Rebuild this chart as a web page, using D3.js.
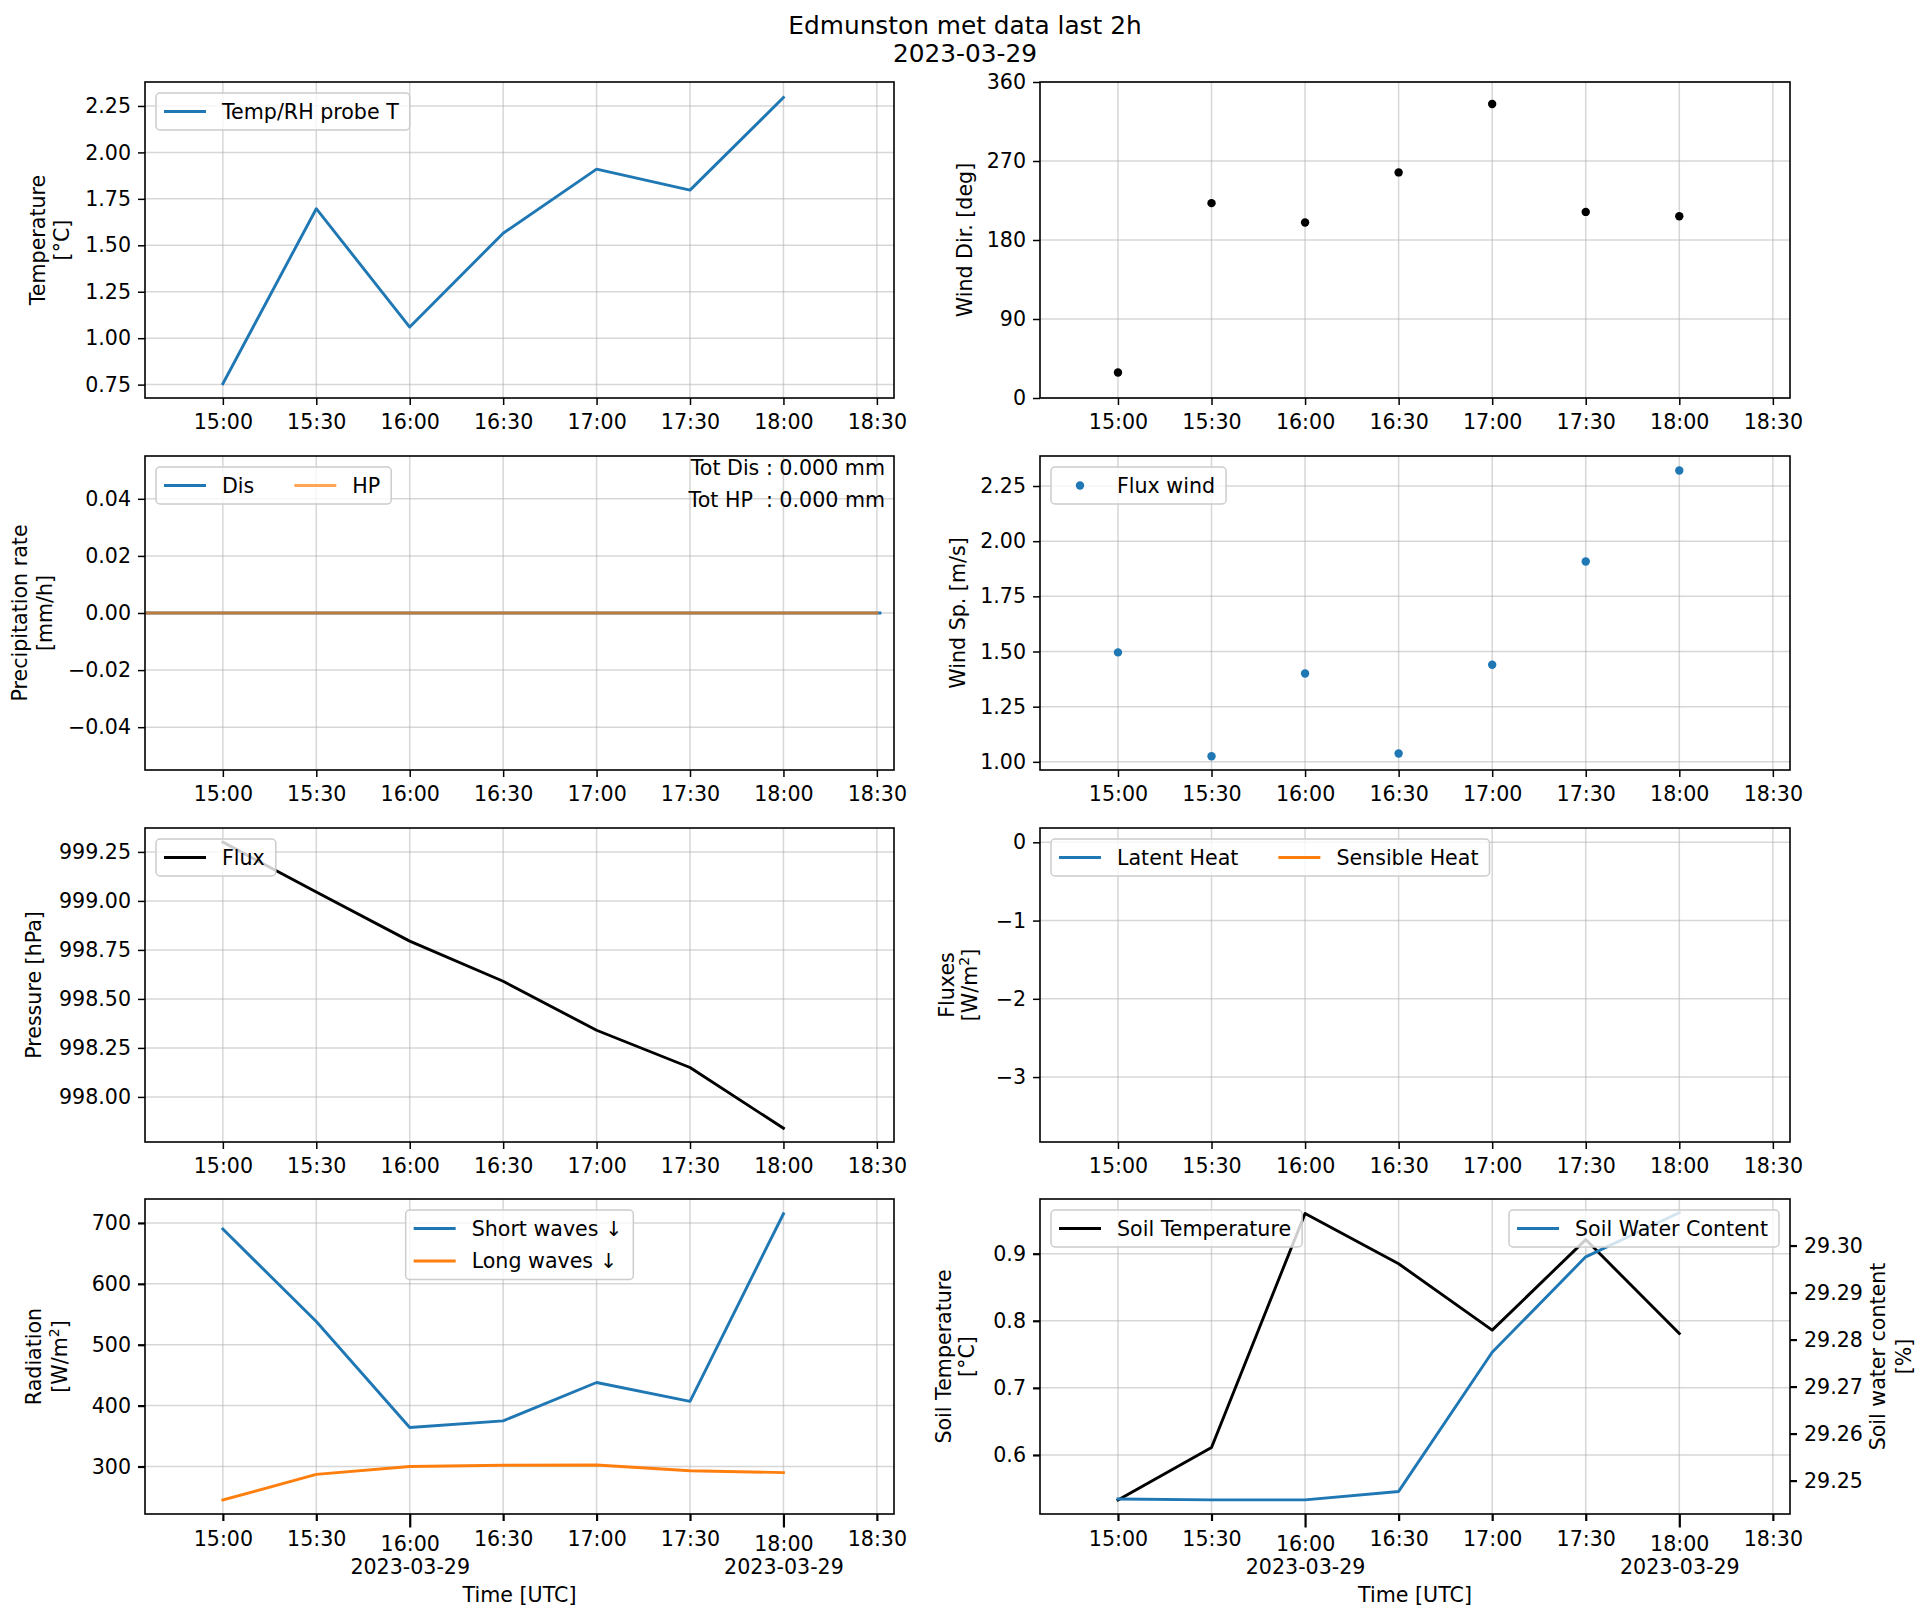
<!DOCTYPE html>
<html>
<head>
<meta charset="utf-8">
<script src="https://cdn.jsdelivr.net/npm/d3@7"></script>
<style>
  body { margin: 0; background: #fff; }
  text { font-family: "DejaVu Sans", sans-serif; fill: #000; }
</style>
</head>
<body>
<svg id="fig" width="1930" height="1621"></svg>
<script>
// ---- data ----
var day = "2023-03-29";
var timeDomain = ["14:35:00", "18:35:30"];
var times = ["15:00", "15:30", "16:00", "16:30", "17:00", "17:30", "18:00"];

var airTemp   = [0.755, 1.697, 1.06, 1.565, 1.91, 1.797, 2.295];
var windDir   = [29, 222, 200, 257, 335, 212, 207];
var windSpeed = [1.496, 1.025, 1.40, 1.038, 1.44, 1.908, 2.32];
var pressure  = [999.30, 999.045, 998.795, 998.59, 998.34, 998.15, 997.84];
var shortWave = [690, 538, 364, 375, 438, 407, 715];
var longWave  = [245, 287, 300, 302, 302.5, 293, 290];
var soilTemp  = [0.533, 0.611, 0.96, 0.885, 0.786, 0.921, 0.781];
var soilWater = [29.2461, 29.2459, 29.2459, 29.2477, 29.2773, 29.2976, 29.307];

var disTimes = ["14:35", "18:31"];
var disRate  = [0, 0];
var hpTimes  = ["14:35", "18:30"];
var hpRate   = [0, 0];
var totDis = 0.000, totHP = 0.000;

// flux panel has no data
var latentHeat = [];
var sensibleHeat = [];

// axis limits and ticks
var tempLim = [0.678, 2.379],      tempTicks = [0.75, 1.00, 1.25, 1.50, 1.75, 2.00, 2.25];
var dirLim = [0, 360],             dirTicks = [0, 90, 180, 270, 360];
var precipLim = [-0.055, 0.055],   precipTicks = [-0.04, -0.02, 0, 0.02, 0.04];
var speedLim = [0.963, 2.386],     speedTicks = [1.00, 1.25, 1.50, 1.75, 2.00, 2.25];
var presLim = [997.77, 999.372],   presTicks = [998.00, 998.25, 998.50, 998.75, 999.00, 999.25];
var fluxLim = [-3.83, 0.183],      fluxTicks = [-3, -2, -1, 0];
var radLim = [222, 739.3],         radTicks = [300, 400, 500, 600, 700];
var soilTLim = [0.512, 0.9815],    soilTTicks = [0.6, 0.7, 0.8, 0.9];
var soilWLim = [29.2429, 29.3099], soilWTicks = [29.25, 29.26, 29.27, 29.28, 29.29, 29.30];
var majorTimes = ["16:00", "18:00"];

// ---- layout ----
var svg = d3.select("#fig");
var FS = 20.6, LW = 2.9;
var blue = "#1f77b4", orange = "#ff7f0e";
var cols = [[145, 894], [1040, 1790]];
var rows = [[82, 398], [456, 770], [828, 1142], [1199, 1514]];

var parseT = d3.utcParse("%Y-%m-%d %H:%M:%S");
function toDate(s) { return parseT(day + " " + (s.length == 5 ? s + ":00" : s)); }
function series(ts, vs) { return ts.map((t, i) => ({t: toDate(t), v: vs[i]})); }
var xDomain = timeDomain.map(toDate);
var every30 = d3.utcMinute.every(30);
var majorSet = majorTimes.map(s => +toDate(s));

var defs = svg.append("defs");
var clipN = 0;

function panel(c, r, yLim, yTicks, yFmt, bottomRow) {
  var left = cols[c][0], right = cols[c][1], top = rows[r][0], bottom = rows[r][1];
  var x = d3.scaleUtc().domain(xDomain).range([left, right]);
  var y = d3.scaleLinear().domain(yLim).range([bottom, top]);
  var g = svg.append("g");
  var id = "clip" + (clipN++);
  defs.append("clipPath").attr("id", id).append("rect")
    .attr("x", left).attr("y", top).attr("width", right - left).attr("height", bottom - top);

  // grid
  var grid = g.append("g").attr("stroke", "#b0b0b0").attr("stroke-opacity", 0.5).attr("stroke-width", 1.5);
  x.ticks(every30).forEach(t => grid.append("line")
    .attr("x1", x(t)).attr("x2", x(t)).attr("y1", top).attr("y2", bottom));
  yTicks.forEach(v => grid.append("line")
    .attr("x1", left).attr("x2", right).attr("y1", y(v)).attr("y2", y(v)));

  var plot = g.append("g").attr("clip-path", "url(#" + id + ")");
  var over = svg.append("g");

  // spines
  over.append("rect").attr("x", left).attr("y", top)
    .attr("width", right - left).attr("height", bottom - top)
    .attr("fill", "none").attr("stroke", "#000").attr("stroke-width", 1.6);

  var tw = bottomRow ? 2.2 : 1.5;
  // x axis
  var xa = over.append("g").attr("transform", `translate(0,${bottom})`)
    .call(d3.axisBottom(x).ticks(every30).tickSize(7).tickPadding(10)
      .tickFormat(d3.utcFormat("%H:%M")));
  xa.select(".domain").remove();
  xa.selectAll("line").attr("stroke-width", tw);
  xa.attr("font-family", null).attr("font-size", FS);
  if (bottomRow) {
    xa.selectAll(".tick").each(function(d) {
      var t = d3.select(this);
      if (majorSet.indexOf(+d) >= 0) {
        t.select("line").attr("y2", 13.5);
        var txt = t.select("text").attr("y", 0).attr("dy", null).text(null);
        txt.append("tspan").attr("x", 0).attr("y", 37).text(d3.utcFormat("%H:%M")(d));
        txt.append("tspan").attr("x", 0).attr("y", 60).text(d3.utcFormat("%Y-%m-%d")(d));
      } else {
        t.select("text").attr("y", 32).attr("dy", null);
      }
    });
    over.append("text").attr("x", (left + right) / 2).attr("y", bottom + 87.5)
      .attr("text-anchor", "middle").attr("font-size", FS).text("Time [UTC]");
  } else {
    xa.selectAll("text").attr("y", 31).attr("dy", null);
  }

  // y axis
  var ya = over.append("g").attr("transform", `translate(${left},0)`)
    .call(d3.axisLeft(y).tickValues(yTicks).tickSize(7).tickPadding(7).tickFormat(d3.format(yFmt)));
  ya.select(".domain").remove();
  ya.selectAll("line").attr("stroke-width", tw);
  ya.attr("font-family", null).attr("font-size", FS);

  return {x: x, y: y, g: g, plot: plot, over: over, id: id,
          box: {left: left, right: right, top: top, bottom: bottom}};
}

function drawLine(p, target, yScale, data, color, alpha) {
  target.append("path").datum(data)
    .attr("fill", "none").attr("stroke", color).attr("stroke-width", LW)
    .attr("stroke-opacity", alpha || 1)
    .attr("stroke-linejoin", "round").attr("stroke-linecap", "square")
    .attr("d", d3.line().x(d => p.x(d.t)).y(d => yScale(d.v)));
}

function drawDots(p, data, color) {
  p.plot.selectAll(null).data(data).join("circle")
    .attr("cx", d => p.x(d.t)).attr("cy", d => p.y(d.v)).attr("r", 4.2).attr("fill", color);
}

function yLabel(lines, xs, box) {
  var cy = (box.top + box.bottom) / 2;
  lines.forEach((l, i) => {
    var t = svg.append("text").attr("transform", `translate(${xs[i]},${cy}) rotate(-90)`)
      .attr("text-anchor", "middle").attr("font-size", FS);
    if (l.indexOf("^2") >= 0) {
      var parts = l.split("^2");
      t.append("tspan").text(parts[0]);
      t.append("tspan").attr("font-size", 14).attr("dy", -8).text("2");
      t.append("tspan").attr("dy", 8).text(parts[1]);
    } else t.text(l);
  });
}

function legend(g, items, box, pos, ncol) {
  var rowH = 32.5, padL = 8, padR = 11, hLen = 42, hGap = 16, colGap = 40;
  var lg = g.append("g");
  var rect = lg.append("rect");
  var nrow = Math.ceil(items.length / ncol);
  var texts = items.map(it => lg.append("text").attr("font-size", FS).text(it.label));
  var widths = texts.map(t => t.node().getComputedTextLength());
  var colW = d3.range(ncol).map(ci => d3.max(widths.filter((w, i) => i % ncol == ci)));
  var wTot = padL + d3.sum(colW, w => hLen + hGap + w) + colGap * (ncol - 1) + padR;
  var hTot = 37 + (nrow - 1) * rowH;
  var bx = pos == "ul" ? box.left + 11
         : pos == "ur" ? box.right - 11 - wTot
         : (box.left + box.right) / 2 - wTot / 2;
  var by = box.top + 11;
  rect.attr("x", bx).attr("y", by).attr("width", wTot).attr("height", hTot)
    .attr("rx", 4).attr("fill", "#fff").attr("fill-opacity", 0.8)
    .attr("stroke", "#cccccc").attr("stroke-width", 1.5);
  items.forEach((it, i) => {
    var ci = i % ncol, ri = Math.floor(i / ncol);
    var cx = bx + padL + d3.sum(colW.slice(0, ci), w => hLen + hGap + w + colGap);
    var cy = by + 18.5 + ri * rowH;
    if (it.type == "dot") {
      lg.append("circle").attr("cx", cx + hLen / 2).attr("cy", cy).attr("r", 4.2).attr("fill", it.color);
    } else {
      lg.append("line").attr("x1", cx).attr("x2", cx + hLen).attr("y1", cy).attr("y2", cy)
        .attr("stroke", it.color).attr("stroke-width", LW).attr("stroke-opacity", it.alpha || 1);
    }
    texts[i].attr("x", cx + hLen + hGap).attr("y", cy).attr("dy", "0.36em");
  });
}

// ---- title ----
svg.append("text").attr("x", 965).attr("y", 34).attr("text-anchor", "middle")
  .attr("font-size", 24.8).text("Edmunston met data last 2h");
svg.append("text").attr("x", 965).attr("y", 62).attr("text-anchor", "middle")
  .attr("font-size", 24.8).text(day);

// ---- temperature ----
var p1 = panel(0, 0, tempLim, tempTicks, ".2f", false);
drawLine(p1, p1.plot, p1.y, series(times, airTemp), blue);
legend(p1.over, [{label: "Temp/RH probe T", color: blue}], p1.box, "ul", 1);
yLabel(["Temperature", "[°C]"], [44.5, 69], p1.box);

// ---- wind direction ----
var p2 = panel(1, 0, dirLim, dirTicks, "d", false);
drawDots(p2, series(times, windDir), "#000");
yLabel(["Wind Dir. [deg]"], [972], p2.box);

// ---- precipitation ----
var p3 = panel(0, 1, precipLim, precipTicks, ".2f", false);
drawLine(p3, p3.plot, p3.y, series(disTimes, disRate), blue);
drawLine(p3, p3.plot, p3.y, series(hpTimes, hpRate), orange, 0.7);
legend(p3.over, [{label: "Dis", color: blue}, {label: "HP", color: orange, alpha: 0.7}], p3.box, "ul", 2);
p3.over.append("text").attr("x", 885).attr("y", 474.6).attr("text-anchor", "end")
  .attr("font-size", FS).style("white-space", "pre").text("Tot Dis : " + d3.format(".3f")(totDis) + " mm");
p3.over.append("text").attr("x", 885).attr("y", 506.6).attr("text-anchor", "end")
  .attr("font-size", FS).style("white-space", "pre").text("Tot HP  : " + d3.format(".3f")(totHP) + " mm");
yLabel(["Precipitation rate", "[mm/h]"], [26.5, 52], p3.box);

// ---- wind speed ----
var p4 = panel(1, 1, speedLim, speedTicks, ".2f", false);
drawDots(p4, series(times, windSpeed), blue);
legend(p4.over, [{label: "Flux wind", color: blue, type: "dot"}], p4.box, "ul", 1);
yLabel(["Wind Sp. [m/s]"], [965], p4.box);

// ---- pressure ----
var p5 = panel(0, 2, presLim, presTicks, ".2f", false);
drawLine(p5, p5.plot, p5.y, series(times, pressure), "#000");
legend(p5.over, [{label: "Flux", color: "#000"}], p5.box, "ul", 1);
yLabel(["Pressure [hPa]"], [40.5], p5.box);

// ---- fluxes ----
var p6 = panel(1, 2, fluxLim, fluxTicks, "d", false);
drawLine(p6, p6.plot, p6.y, latentHeat, blue);
drawLine(p6, p6.plot, p6.y, sensibleHeat, orange);
legend(p6.over, [{label: "Latent Heat", color: blue}, {label: "Sensible Heat", color: orange}], p6.box, "ul", 2);
yLabel(["Fluxes", "[W/m^2]"], [953.5, 977], p6.box);

// ---- radiation ----
var p7 = panel(0, 3, radLim, radTicks, "d", true);
drawLine(p7, p7.plot, p7.y, series(times, shortWave), blue);
drawLine(p7, p7.plot, p7.y, series(times, longWave), orange);
legend(p7.over, [{label: "Short waves  \u2193", color: blue}, {label: "Long waves  \u2193", color: orange}], p7.box, "uc", 1);
yLabel(["Radiation", "[W/m^2]"], [40.5, 67], p7.box);

// ---- soil ----
var p8 = panel(1, 3, soilTLim, soilTTicks, ".1f", true);
drawLine(p8, p8.plot, p8.y, series(times, soilTemp), "#000");
legend(p8.over, [{label: "Soil Temperature", color: "#000"}], p8.box, "ul", 1);
yLabel(["Soil Temperature", "[°C]"], [950.5, 973.5], p8.box);

var y2 = d3.scaleLinear().domain(soilWLim).range([p8.box.bottom, p8.box.top]);
var top2 = svg.append("g");
var clip2 = top2.append("g").attr("clip-path", "url(#" + p8.id + ")");
drawLine(p8, clip2, y2, series(times, soilWater), blue);
var ra = top2.append("g").attr("transform", `translate(${p8.box.right},0)`)
  .call(d3.axisRight(y2).tickValues(soilWTicks).tickSize(7).tickPadding(7).tickFormat(d3.format(".2f")));
ra.select(".domain").remove();
ra.selectAll("line").attr("stroke-width", 2.2);
ra.attr("font-family", null).attr("font-size", FS);
legend(top2, [{label: "Soil Water Content", color: blue}], p8.box, "ur", 1);
var cy8 = (p8.box.top + p8.box.bottom) / 2;
top2.append("text").attr("transform", `translate(1885,${cy8}) rotate(-90)`)
  .attr("text-anchor", "middle").attr("font-size", FS).text("Soil water content");
top2.append("text").attr("transform", `translate(1911,${cy8}) rotate(-90)`)
  .attr("text-anchor", "middle").attr("font-size", FS).text("[%]");
</script>
</body>
</html>
